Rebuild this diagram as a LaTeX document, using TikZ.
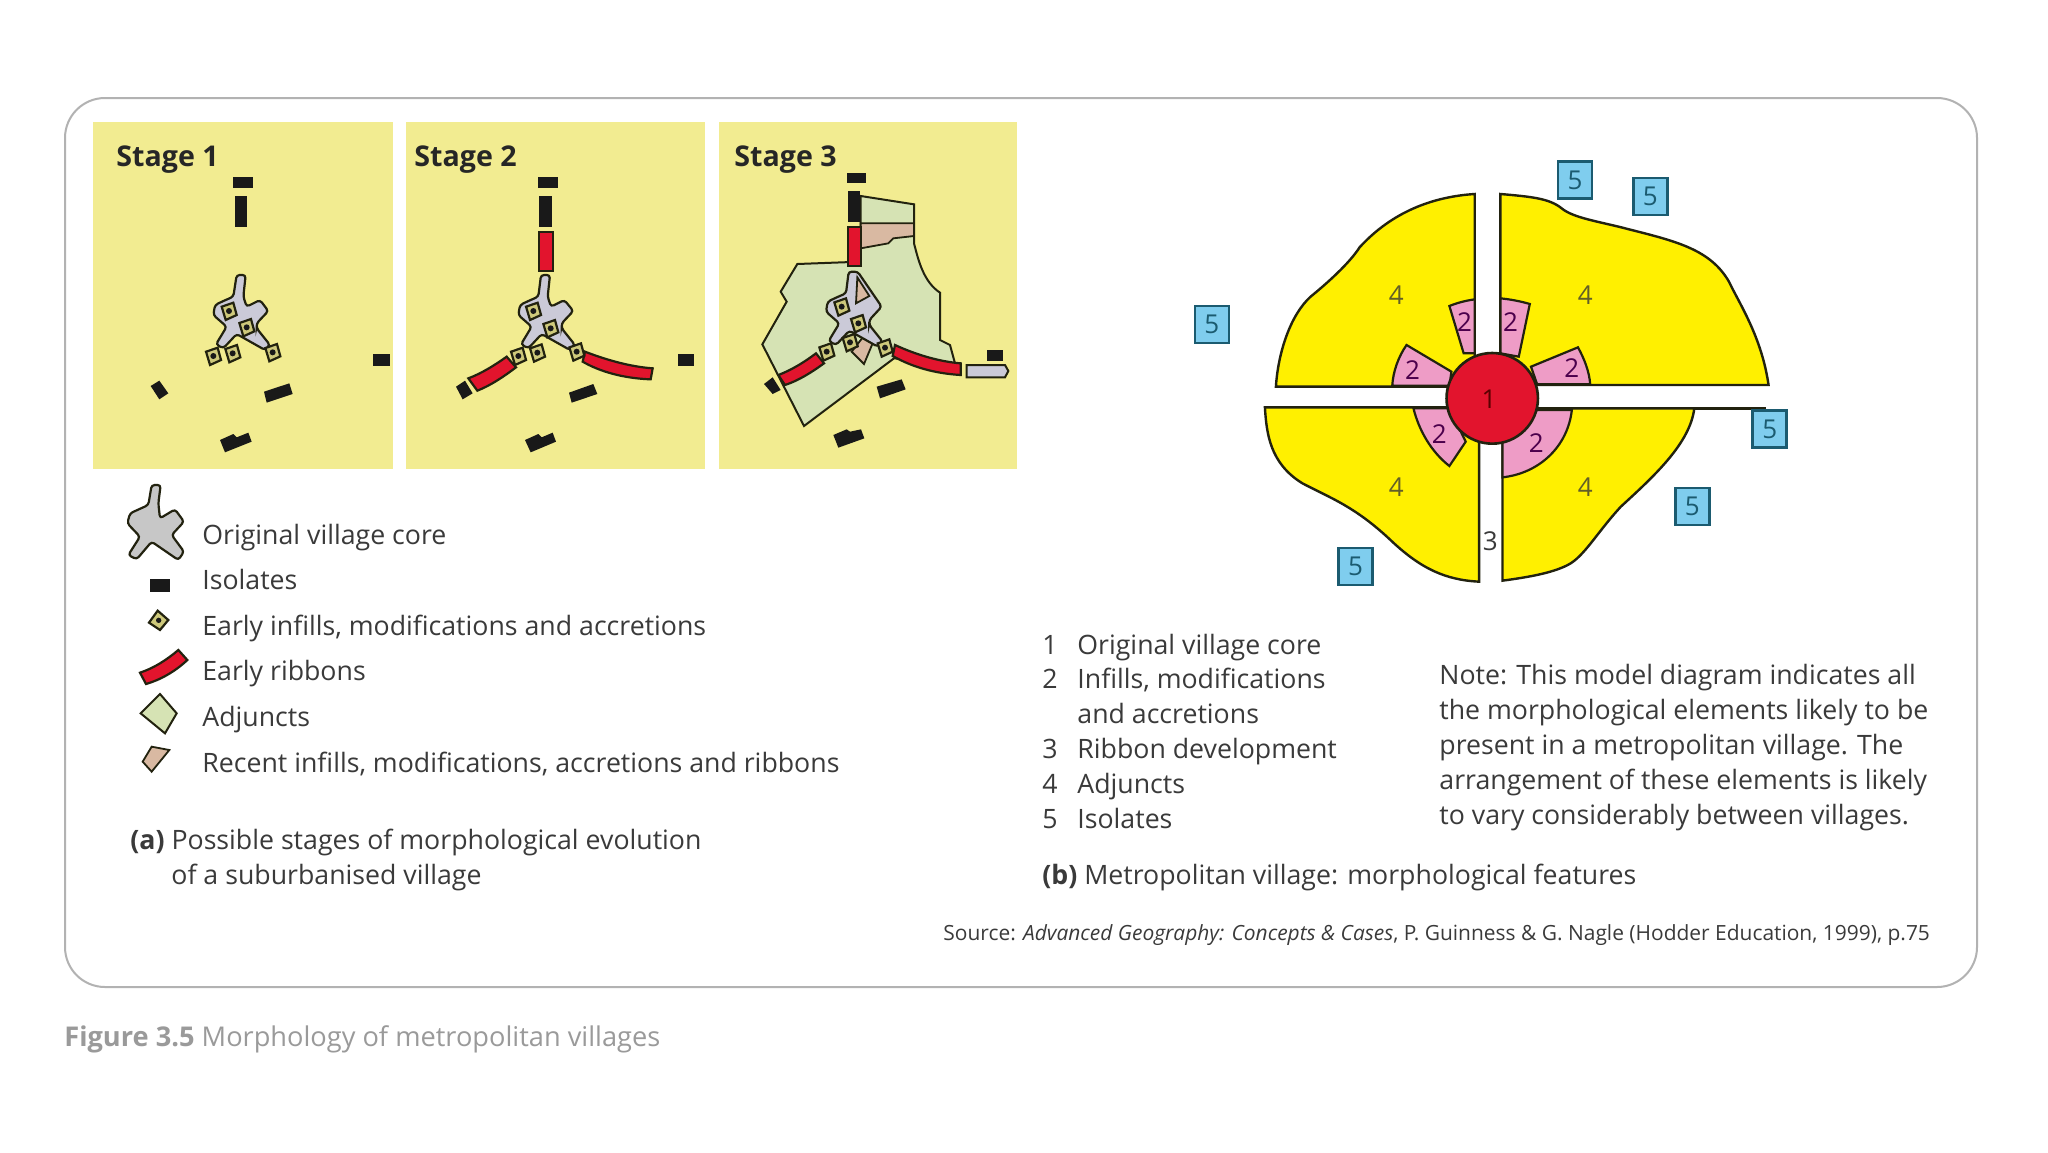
\documentclass[tikz,border=0pt]{standalone}
\usepackage{fontspec}
\setmainfont{Open Sans}
\usepackage{tikz}
\usetikzlibrary{positioning,calc}
\definecolor{panelyellow}{HTML}{F2EC91}
\definecolor{coregrey}{HTML}{CBCAD8}
\definecolor{ribbonred}{HTML}{E2142D}
\definecolor{adjunctgreen}{HTML}{D6E3B4}
\definecolor{recentbeige}{HTML}{D9B9A2}
\definecolor{darkline}{HTML}{22220F}
\definecolor{quadyellow}{HTML}{FFF000}
\definecolor{sectorpink}{HTML}{EE9CC6}
\definecolor{boxblue}{HTML}{7FCDEE}
\definecolor{boxline}{HTML}{1B5B70}
\definecolor{bodytext}{HTML}{3A3A3A}
\definecolor{captiongrey}{HTML}{9A9A9A}

\begin{document}
\begin{tikzpicture}[
  x=0.5pt, y=-0.5pt,
  every node/.style={text=bodytext, inner sep=0pt},
  txt/.style={font=\fontsize{13.35}{17.4}\selectfont, anchor=base west, align=left},
  stagelabel/.style={font=\fontsize{14.3}{16}\selectfont\bfseries, anchor=base west, text=black!85},
  panel/.style={fill=panelyellow},
  isolate/.style={fill=black!90},
  ribbon/.style={draw=darkline, fill=ribbonred, line width=1.1pt},
  adjunct/.style={draw=darkline, fill=adjunctgreen, line width=1pt},
  recent/.style={draw=darkline, fill=recentbeige, line width=.9pt},
  coreshape/.style={draw=darkline, fill=coregrey, line width=1.1pt, rounded corners=1.5pt},
  quad/.style={draw=darkline, fill=quadyellow, line width=1.2pt},
  sector/.style={draw=darkline, fill=sectorpink, line width=1.1pt},
  numbox/.style={draw=boxline, fill=boxblue, line width=1.3pt, minimum width=17pt, minimum height=18.5pt,
                 text=boxline, font=\fontsize{13}{15}\selectfont},
  num/.style={font=\fontsize{13}{15}\selectfont},
  infill/.pic={
    \draw[draw=darkline, fill=panelyellow!85!black, line width=1.1pt]
      (-7.3,-4.3) -- (4.3,-8.3) -- (7.7,4) -- (-3.3,9) -- cycle;
    \fill[black!90] (0,0) circle (3);
  }
]
\fill[white] (0,0) rectangle (2048,1152);
\useasboundingbox (0,0) rectangle (2048,1152);

% Frame
\draw[black!30, line width=1pt, rounded corners=20pt] (65,98) rectangle (1977,987);

% Panels
\fill[panel] (93,122) rectangle (393,469);
\fill[panel] (406,122) rectangle (705,469);
\fill[panel] (719,122) rectangle (1017,469);
\node[stagelabel] (stage1) at (116,166) {Stage 1};
\node[stagelabel] (stage2) at (414,166) {Stage 2};
\node[stagelabel] (stage3) at (734,166) {Stage 3};

% Stage 1
\begin{scope}[shift={(80,110)}, scale=1/3]
  \fill[isolate] (460,202) rectangle (520,235);
  \fill[isolate] (464,257) rectangle (502,350);
  \fill[isolate] (880,732) rectangle (930,768);
  \fill[isolate] (212,828) -- (238,812) -- (265,850) -- (238,868) -- cycle;
  \fill[isolate] (552,845) -- (628,820) -- (638,852) -- (560,878) -- cycle;
  \fill[isolate] (420,990) -- (460,972) -- (470,982) -- (505,968) -- (515,995) -- (435,1027) -- cycle;
  \draw[coreshape] (470,495) -- (497,495) -- (490,560) -- (500,590) -- (540,570) -- (565,603) -- (530,640) -- (530,655)
    -- (570,705) -- (555,720) -- (470,672) -- (430,715) -- (408,703) -- (440,650) -- (400,615) -- (405,585) -- (430,573) -- (460,560) -- cycle;
  \pic at (447,603) {infill};
  \pic at (500,652) {infill};
  \pic at (578,727) {infill};
  \pic at (458,730) {infill};
  \pic at (400,738) {infill};
\end{scope}

% Stage 2
\begin{scope}[shift={(400,110)}, scale=1/3]
  \fill[isolate] (415,202) rectangle (473,235);
  \fill[isolate] (418,257) rectangle (456,350);
  \fill[isolate] (835,733) rectangle (883,767);
  \fill[isolate] (168,830) -- (195,812) -- (218,850) -- (188,868) -- cycle;
  \fill[isolate] (507,848) -- (580,822) -- (592,852) -- (515,878) -- cycle;
  \fill[isolate] (375,990) -- (415,972) -- (425,982) -- (458,968) -- (468,995) -- (392,1027) -- cycle;
  \draw[ribbon] (418,365) rectangle (458,482);
  \draw[ribbon] (205,805) .. controls (245,790) and (285,765) .. (320,740) -- (348,772) .. controls (315,797) and (275,825) .. (232,842) -- cycle;
  \draw[ribbon] (555,725) .. controls (620,750) and (690,770) .. (758,775) -- (752,808) .. controls (670,805) and (600,785) .. (548,755) -- cycle;
  \draw[coreshape] (423,495) -- (450,495) -- (443,560) -- (453,590) -- (493,570) -- (520,603) -- (485,640) -- (485,655)
    -- (525,705) -- (510,720) -- (425,672) -- (385,715) -- (363,703) -- (395,650) -- (355,615) -- (360,585) -- (385,573) -- (415,560) -- cycle;
  \pic at (400,603) {infill};
  \pic at (452,655) {infill};
  \pic at (530,725) {infill};
  \pic at (412,728) {infill};
  \pic at (355,738) {infill};
\end{scope}

% Stage 3
\begin{scope}[shift={(710,110)}, scale=1/3]
  \draw[adjunct] (452,258) -- (612,283) -- (612,400) .. controls (625,450) and (640,515) .. (690,548) -- (690,690) -- (720,705) -- (735,760)
    -- (552,745) -- (282,948) -- (157,703) -- (230,575) -- (212,545) -- (262,462) -- (452,455) -- cycle;
  \draw[recent] (452,340) -- (612,340) -- (612,378) -- (550,385) -- (535,400) -- (452,415) -- cycle;
  \fill[isolate] (410,188) rectangle (467,220);
  \fill[isolate] (414,243) rectangle (450,335);
  \fill[isolate] (830,720) rectangle (878,752);
  \fill[isolate] (162,822) -- (188,802) -- (212,840) -- (188,852) -- cycle;
  \fill[isolate] (500,830) -- (575,808) -- (587,838) -- (510,865) -- cycle;
  \fill[isolate] (370,975) -- (410,958) -- (420,965) -- (453,958) -- (463,985) -- (385,1013) -- cycle;
  \draw[recent] (490,695) -- (462,762) -- (425,725) -- (460,680) -- cycle;
  \draw[ribbon] (414,350) rectangle (452,468);
  \draw[ribbon] (205,795) .. controls (245,780) and (285,755) .. (318,730) -- (342,760) .. controls (305,787) and (265,812) .. (225,825) -- cycle;
  \draw[ribbon] (555,705) .. controls (620,735) and (690,755) .. (752,760) -- (752,795) .. controls (670,790) and (605,770) .. (548,738) -- cycle;
  \draw[coreshape] (416,485) -- (443,485) -- (515,590) -- (478,630) -- (478,645)
    -- (518,695) -- (503,710) -- (418,662) -- (378,705) -- (356,693) -- (388,640) -- (348,605) -- (353,575) -- (378,563) -- (408,550) -- cycle;
  \draw[recent] (442,502) -- (478,558) -- (438,580) -- cycle;
  \draw[draw=darkline, fill=coregrey, line width=1pt] (770,765) -- (885,765) -- (895,783) -- (885,802) -- (770,802) -- cycle;
  \pic at (395,590) {infill};
  \pic at (445,640) {infill};
  \pic at (525,713) {infill};
  \pic at (420,697) {infill};
  \pic at (350,725) {infill};
\end{scope}

% Key to the stages
\begin{scope}[shift={(110,480)}, scale=1/3]
  \draw[draw=darkline, fill=black!22, line width=1.1pt, rounded corners=1.5pt] (125,15) -- (152,15) -- (145,70) -- (150,115) -- (195,88) -- (222,125) -- (185,165) -- (222,215)
    -- (205,240) -- (125,185) -- (80,238) -- (55,225) -- (90,170) -- (52,130) -- (60,100) -- (115,75) -- cycle;
  \fill[isolate] (120,298) rectangle (180,336);
  \draw[draw=darkline, fill=panelyellow!85!black, line width=1.1pt] (117,428) -- (143,392) -- (175,420) -- (150,450) -- cycle;
  \fill[black!90] (146,421) circle (8);
  \draw[ribbon] (90,578) .. controls (130,565) and (170,540) .. (205,510) -- (232,540) .. controls (195,575) and (150,600) .. (108,612) -- cycle;
  \draw[adjunct] (92,700) -- (150,642) -- (200,700) -- (165,760) -- cycle;
  \draw[recent] (98,845) -- (125,800) -- (178,810) -- (125,875) -- cycle;
\end{scope}
\node[txt] (keycore)   at (202,544) {Original village core};
\node[txt] (keyiso)    at (202,589) {Isolates};
\node[txt] (keyinfill) at (202,635) {Early infills, modifications and accretions};
\node[txt] (keyrib)    at (202,680) {Early ribbons};
\node[txt] (keyadj)    at (202,726) {Adjuncts};
\node[txt] (keyrecent) at (202,772) {Recent infills, modifications, accretions and ribbons};
\node[txt] (capa) at (130,884) {\textbf{(a)} Possible stages of morphological evolution\\\hspace*{20.5pt}of a suburbanised village};

% Model diagram
\begin{scope}[shift={(1180,140)}, xscale=1/2.45, yscale=1/3]
  \draw[quad] (722,162) .. controls (620,170) and (520,215) .. (440,322) .. controls (415,370) and (360,430) .. (320,470)
    .. controls (270,525) and (240,640) .. (235,740) -- (722,740) -- cycle;
  \draw[quad] (785,162) .. controls (860,170) and (905,175) .. (935,205) .. controls (965,235) and (1030,245) .. (1100,268)
    .. controls (1220,305) and (1300,330) .. (1345,425) .. controls (1370,490) and (1425,590) .. (1442,735) -- (785,735) -- cycle;
  \draw[quad] (208,802) .. controls (212,880) and (220,970) .. (300,1030) .. controls (370,1075) and (430,1100) .. (520,1205)
    .. controls (590,1285) and (650,1320) .. (733,1325) -- (733,802) -- cycle;
  \draw[quad] (790,805) -- (1260,805) .. controls (1250,910) and (1160,1010) .. (1080,1100)
    .. controls (1020,1180) and (990,1250) .. (950,1275) .. controls (910,1300) and (850,1312) .. (790,1322) -- cycle;
  \draw[quad] (1260,805) -- (1435,805);
  \draw[sector] (722,478) .. controls (700,482) and (680,488) .. (660,498) -- (695,640) -- (722,640) -- cycle;
  \draw[sector] (785,475) .. controls (810,478) and (835,484) .. (857,492) -- (830,650) -- (785,640) -- cycle;
  \draw[sector] (555,615) .. controls (535,650) and (522,695) .. (520,737) -- (660,737) -- (665,695) -- cycle;
  \draw[sector] (975,622) .. controls (990,655) and (1003,695) .. (1005,733) -- (875,733) -- (860,680) -- cycle;
  \draw[sector] (572,805) .. controls (585,870) and (615,935) .. (660,978) -- (700,905) -- (660,805) -- cycle;
  \draw[sector] (960,810) .. controls (950,920) and (880,1000) .. (790,1012) -- (790,905) -- (875,810) -- cycle;
  \draw[draw=darkline, fill=ribbonred, line width=1.3pt] (765,775) ellipse (112 and 136);
  \node[numbox] (box1) at (78,553) {5};
  \node[numbox] (box2) at (968,120) {5};
  \node[numbox] (box3) at (1152,170) {5};
  \node[numbox] (box4) at (1445,867) {5};
  \node[numbox] (box5) at (1255,1100) {5};
  \node[numbox] (box6) at (430,1280) {5};
  \node[num, text=olive!60!black] (adj1) at (530,465) {4};
  \node[num, text=olive!60!black] (adj2) at (993,465) {4};
  \node[num, text=olive!60!black] (adj3) at (530,1040) {4};
  \node[num, text=olive!60!black] (adj4) at (993,1040) {4};
  \node[num, text=violet!60!black] (inf1) at (697,545) {2};
  \node[num, text=violet!60!black] (inf2) at (810,545) {2};
  \node[num, text=violet!60!black] (inf3) at (570,690) {2};
  \node[num, text=violet!60!black] (inf4) at (960,685) {2};
  \node[num, text=violet!60!black] (inf5) at (635,882) {2};
  \node[num, text=violet!60!black] (inf6) at (873,910) {2};
  \node[num, text=red!35!black] (corenum) at (757,778) {1};
  \node[num] (ribnum) at (760,1205) {3};
\end{scope}

% Key to the model
\node[txt] (modelnums) at (1042,828) {1\\2\\\\3\\4\\5};
\node[txt] (modelkey) at (1077,828) {Original village core\\Infills, modifications\\and accretions\\Ribbon development\\Adjuncts\\Isolates};
\node[txt] (note) at (1439,824) {Note: This model diagram indicates all\\the morphological elements likely to be\\present in a metropolitan village. The\\arrangement of these elements is likely\\to vary considerably between villages.};
\node[txt] (capb) at (1042,884) {\textbf{(b)} Metropolitan village: morphological features};
\node[txt, font=\fontsize{10.47}{12}\selectfont] (source) at (943,940) {Source: \textit{Advanced Geography: Concepts \& Cases}, P. Guinness \& G. Nagle (Hodder Education, 1999), p.75};

% Figure caption
\node[txt, font=\fontsize{13.6}{16}\selectfont, text=captiongrey] (figcap) at (64,1046) {\textbf{Figure 3.5} Morphology of metropolitan villages};
\end{tikzpicture}
\end{document}
